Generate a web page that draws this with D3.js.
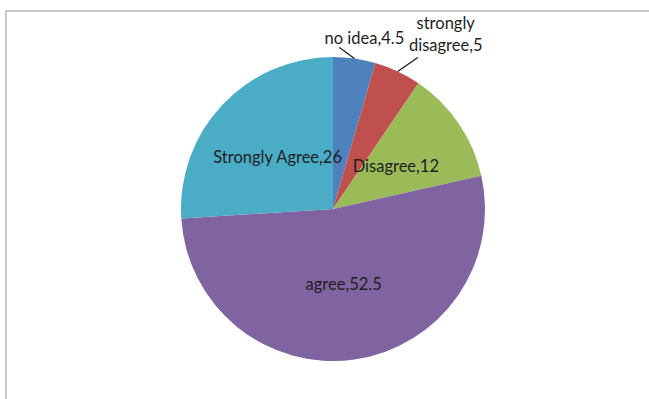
<!DOCTYPE html>
<html><head><meta charset="utf-8">
<script src="https://cdn.jsdelivr.net/npm/d3@7"></script>
<style>html,body{margin:0;padding:0;background:#fff;}svg{display:block;}</style>
</head><body>
<svg id="c" width="649" height="399"></svg>
<script>
const categories = ["no idea", "strongly disagree", "Disagree", "agree", "Strongly Agree"];
const values = [4.5, 5, 12, 52.5, 26];
const colors = ["#4F81BD", "#C0504D", "#9BBB59", "#8064A2", "#4BACC6"];

const svg = d3.select("#c");
svg.append("rect").attr("x", 6).attr("y", 11).attr("width", 700).attr("height", 500)
  .attr("fill", "#fff").attr("stroke", "#c9c9c9").attr("stroke-width", 2);

const cx = 333, cy = 209, R = 152;
const g = svg.append("g").attr("transform", `translate(${cx},${cy})`);
const data = categories.map((c, i) => ({cat: c, v: values[i], col: colors[i]}));
const pie = d3.pie().value(d => d.v).sort(null);
const arcs = pie(data);
const arc = d3.arc().innerRadius(0).outerRadius(R);

g.selectAll("path.s").data(arcs).join("path").attr("class", "s")
  .attr("d", arc).attr("fill", d => d.data.col);

const font = "Lato, 'Open Sans', sans-serif";
const fs = 16.5;
const tc = "#1e1e1e";

// inside labels
arcs.forEach(a => {
  if (a.data.v < 10) return;
  const [x, y] = arc.centroid(a);
  g.append("text").attr("x", x).attr("y", y).attr("text-anchor", "middle")
    .attr("dominant-baseline", "central").attr("font-family", font).attr("font-size", fs)
    .attr("fill", tc).text(a.data.cat + "," + a.data.v);
});

// outside labels with leader lines
const outside = {
  "no idea": {lx: -15, ly: -11, tx: 10, ty: -21, lines: ["no idea,4.5"]},
  "strongly disagree": {lx: 20, ly: -14, tx: 48, ty: -37, lines: ["strongly", "disagree,5"]}
};
arcs.forEach(a => {
  const o = outside[a.data.cat];
  if (!o) return;
  const m = (a.startAngle + a.endAngle) / 2;
  const ex = R * Math.sin(m), ey = -R * Math.cos(m);
  g.append("line").attr("x1", ex).attr("y1", ey).attr("x2", ex + o.lx).attr("y2", ey + o.ly)
    .attr("stroke", "#1e1e1e").attr("stroke-width", 1.3);
  const t = g.append("text").attr("text-anchor", "middle").attr("font-family", font)
    .attr("font-size", fs).attr("fill", tc);
  o.lines.forEach((ln, k) => {
    t.append("tspan").attr("x", ex + o.tx).attr("y", ey + o.ty + k * 22 - (o.lines.length - 1) * 11)
      .attr("dominant-baseline", "central").text(ln);
  });
});
</script>
</body></html>
